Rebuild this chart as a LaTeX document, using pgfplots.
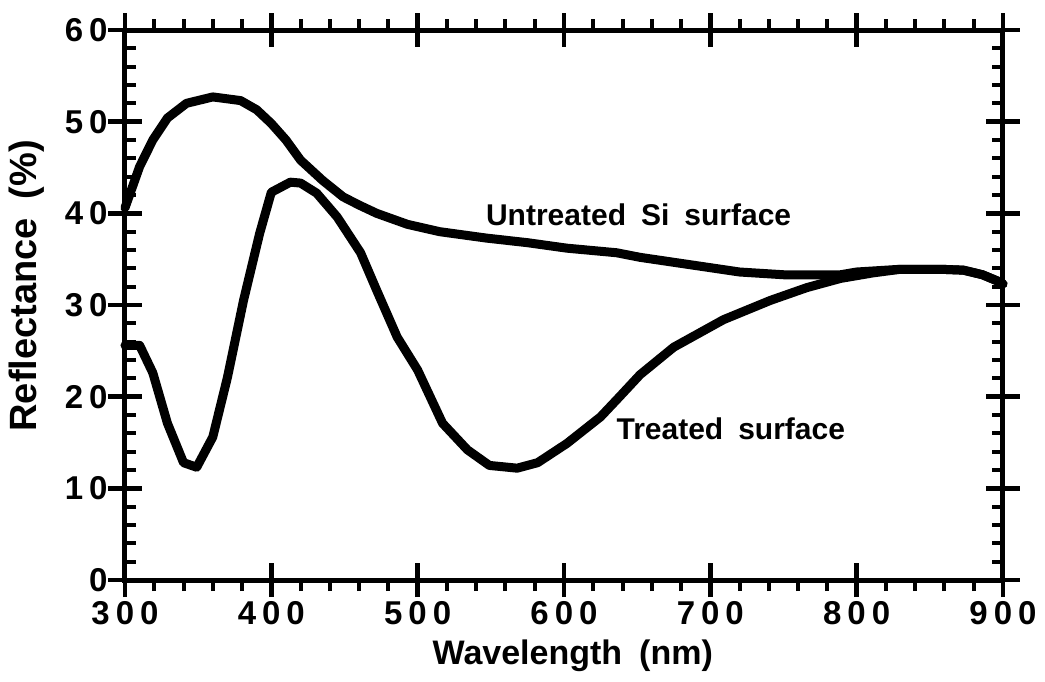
\documentclass[border=0pt]{standalone}
\usepackage{pgfplots}
\pgfplotsset{compat=1.18}
\usepackage{fontspec}
\setmainfont{Liberation Sans}
\newcommand{\dsp}{\hspace{3pt}}
\newcommand{\tl}[1]{\mbox{\fontsize{16.5}{18}\selectfont\bfseries #1}}
\pgfplotstableread{
x y
300 40.6
310 45.1
319 48.0
329 50.4
342 52.0
360 52.7
379 52.3
390 51.3
400 49.8
410 48.0
420 45.8
435 43.6
449 41.8
460 40.9
472 40.0
493 38.8
515 38.0
547 37.3
575 36.8
602 36.2
636 35.7
652 35.2
686 34.4
720 33.6
750 33.3
789 33.3
800 33.6
830 33.9
857 33.9
873 33.8
886 33.3
898 32.5
900 32.3
}\untreated
\pgfplotstableread{
x y
300 25.6
310 25.6
319 22.6
329 17.1
340 12.8
349 12.3
360 15.6
370 22.1
381 30.5
392 37.8
400 42.3
413 43.4
420 43.3
431 42.2
445 39.6
461 35.7
472 31.6
486 26.5
500 22.9
517 17.1
534 14.2
549 12.5
568 12.2
582 12.8
602 14.9
625 17.8
638 20.0
652 22.4
675 25.4
709 28.4
741 30.5
766 31.9
789 32.9
811 33.5
830 33.9
857 33.9
873 33.8
886 33.3
898 32.5
900 32.3
}\treated
\begin{document}
\begin{tikzpicture}
\pgfplotsset{
  base/.style={
    scale only axis, width=439pt, height=275pt,
    xmin=300, xmax=900, ymin=0, ymax=60,
  }
}
% minor x ticks (outside, top and bottom)
\begin{axis}[base, axis line style={draw=none},
  xtick={300,400,...,900}, xticklabels=\empty, ytick=\empty,
  minor x tick num=4,
  tick align=outside, minor tick length=5.5pt, major tick length=0pt,
  every minor tick/.style={line width=2pt, black}]
\end{axis}
% minor y ticks (inside, left and right)
\begin{axis}[base, axis line style={draw=none},
  ytick={0,10,...,60}, yticklabels=\empty, xtick=\empty,
  minor y tick num=4,
  tick align=inside, minor tick length=5.5pt, major tick length=0pt,
  every minor tick/.style={line width=2pt, black}]
\end{axis}
% main axis
\begin{axis}[base,
  axis line style={line width=2.5pt, line cap=rect},
  tick align=center, major tick length=17pt,
  every tick/.style={line width=2.3pt, black},
  xtick={300,400,...,900},
  xticklabels={\tl{3\dsp0\dsp0},\tl{4\dsp0\dsp0},\tl{5\dsp0\dsp0},\tl{6\dsp0\dsp0},\tl{7\dsp0\dsp0},\tl{8\dsp0\dsp0},\tl{9\dsp0\dsp0}},
  ytick={0,10,...,60},
  yticklabels={\tl{0},\tl{1\dsp0},\tl{2\dsp0},\tl{3\dsp0},\tl{4\dsp0},\tl{5\dsp0},\tl{6\dsp0}},
  xtick pos=both, ytick pos=both,
  xticklabel pos=bottom, yticklabel pos=left,
  xticklabel style={anchor=north, inner sep=0pt, yshift=-2pt},
  yticklabel style={anchor=east, inner sep=0pt, xshift=0pt},
  xlabel={\textbf{Wavelength\hspace{0.5em}(nm)}},
  ylabel={\textbf{Reflectance\hspace{0.5em}(\%)}},
  xlabel style={at={(axis description cs:0.510,-0.1545)}, anchor=base, inner sep=0pt, font=\fontsize{17}{19}\selectfont},
  ylabel style={at={(axis description cs:-0.1116,0.535)}, anchor=center, inner sep=0pt, font=\fontsize{19}{21}\selectfont},
  clip=false,
]
\addplot[black, line width=4.5pt, line join=round, line cap=round] table {\untreated};
\addplot[black, line width=4.5pt, line join=round, line cap=round] table {\treated};
\node[anchor=base, inner sep=0pt, font=\fontsize{15}{17}\selectfont\bfseries] at (axis cs:651,38.7) {Untreated\hspace{0.5em}Si\hspace{0.5em}surface};
\node[anchor=base, inner sep=0pt, font=\fontsize{15}{17}\selectfont\bfseries] at (axis cs:714,15.3) {Treated\hspace{0.5em}surface};
\end{axis}
\pgfresetboundingbox
\path (-62.5pt,-50.5pt) rectangle (460pt,290pt);
\end{tikzpicture}
\end{document}
